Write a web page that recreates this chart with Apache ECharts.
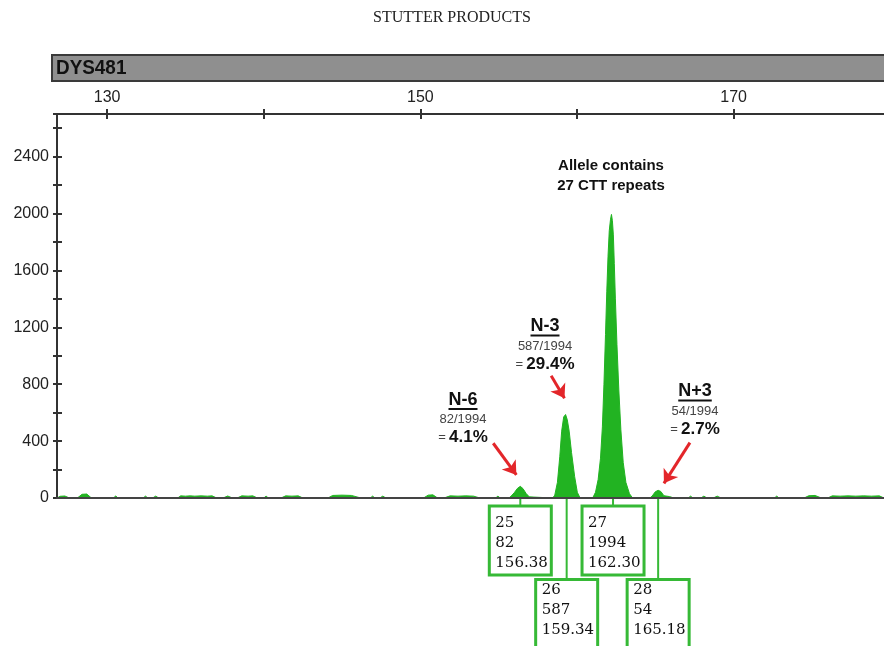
<!DOCTYPE html>
<html>
<head>
<meta charset="utf-8">
<title>Stutter products</title>
<script src="https://cdn.jsdelivr.net/npm/echarts@6/dist/echarts.min.js"></script>
<style>
  html, body { margin: 0; padding: 0; background: #fff; }
  #chart { width: 884px; height: 646px; }
</style>
</head>
<body>
<div id="chart"></div>
<script>
// size axis (bp) ticks and labels
const sizeTicks = [130, 140, 150, 160, 170];
const sizeLabels = [130, 150, 170];

// electropherogram trace: [size bp, RFU]
const signal = [
  [126.8, 0], [127.0, 12], [127.3, 14], [127.6, 0],
  [128.1, 0], [128.4, 26], [128.7, 28], [129.0, 0],
  [130.4, 0], [130.55, 14], [130.7, 0],
  [132.3, 0], [132.45, 13], [132.6, 0],
  [132.9, 0], [133.1, 13], [133.3, 0],
  [134.5, 0], [134.7, 15], [135.0, 13], [135.3, 15], [135.6, 13], [136.0, 15], [136.4, 13], [136.7, 15], [137.0, 0],
  [137.4, 0], [137.7, 14], [138.0, 0],
  [138.3, 0], [138.6, 15], [139.0, 13], [139.3, 15], [139.6, 0],
  [140.0, 0], [140.15, 13], [140.3, 0],
  [141.1, 0], [141.4, 15], [141.8, 13], [142.2, 15], [142.5, 0],
  [144.1, 0], [144.4, 18], [145.0, 20], [145.6, 18], [146.2, 0],
  [146.8, 0], [146.95, 13], [147.1, 0],
  [147.4, 0], [147.6, 13], [147.8, 0],
  [150.2, 0], [150.5, 20], [150.8, 22], [151.1, 0],
  [151.5, 0], [151.9, 15], [152.4, 13], [152.9, 15], [153.4, 13], [153.8, 0],
  [154.8, 0], [154.95, 13], [155.1, 0],
  // N-6 stutter (allele 25)
  [155.65, 0], [155.8, 14], [156.0, 38], [156.2, 68], [156.38, 82], [156.55, 66], [156.75, 32], [156.95, 8], [157.05, 0],
  // N-3 stutter (allele 26)
  [158.45, 0], [158.58, 20], [158.75, 110], [158.9, 290], [159.02, 470], [159.15, 570], [159.27, 587],
  [159.38, 550], [159.5, 470], [159.65, 320], [159.85, 150], [160.02, 40], [160.2, 0],
  // true allele 27
  [161.0, 0], [161.18, 40], [161.35, 130], [161.5, 280], [161.62, 500], [161.72, 800], [161.82, 1150],
  [161.9, 1450], [161.98, 1700], [162.06, 1880], [162.14, 1960], [162.2, 1994], [162.26, 1950],
  [162.32, 1850], [162.38, 1650], [162.45, 1400], [162.55, 1080], [162.67, 760], [162.8, 480],
  [162.95, 250], [163.12, 110], [163.35, 30], [163.55, 0],
  // N+3 stutter (allele 28)
  [164.65, 0], [164.8, 14], [165.0, 44], [165.18, 54], [165.35, 46], [165.55, 16], [165.9, 10], [166.2, 0],
  [167.1, 0], [167.25, 13], [167.4, 0],
  [167.9, 0], [168.1, 13], [168.3, 0],
  [168.7, 0], [168.95, 13], [169.2, 0],
  [169.5, 0], [169.6, 12], [169.7, 0],
  [172.6, 0], [172.75, 13], [172.9, 0],
  [174.5, 0], [174.8, 16], [175.2, 18], [175.6, 0],
  [176.0, 0], [176.3, 15], [176.8, 13], [177.3, 15], [177.8, 13], [178.3, 15], [178.8, 13], [179.3, 15], [179.6, 0]
];

// allele call boxes
const alleles = ['25', '26', '27', '28'];
const heights = [82, 587, 1994, 54];
const sizes = [156.38, 159.34, 162.30, 165.18];

// stutter notes
const noteNames = ['N-6', 'N-3', 'N+3'];
const noteRatios = ['82/1994', '587/1994', '54/1994'];
const notePcts = ['4.1%', '29.4%', '2.7%'];
// arrows, from [bp, RFU] to [bp, RFU]
const arrows = [
  [[154.65, 385], [156.13, 162]],
  [[158.35, 859], [159.20, 702]],
  [[167.21, 389], [165.55, 103]]
];

const GREEN = '#22b322';
const BOX_GREEN = '#36b936';
const RED = '#e3262a';
const AXIS = '#333';
const SANS = '"Liberation Sans", Arial, sans-serif';

const chart = echarts.init(document.getElementById('chart'));

chart.setOption({
  animation: false,
  backgroundColor: '#fff',
  grid: { left: 57, right: 0, top: 114, bottom: 148 },
  xAxis: [
    {
      type: 'value', position: 'top', min: 126.8, max: 179.6,
      axisLine: { show: true, onZero: false, lineStyle: { color: AXIS, width: 2 } },
      axisTick: { show: true, length: 5, customValues: sizeTicks, lineStyle: { color: AXIS, width: 2 } },
      axisLabel: { show: true, customValues: sizeLabels, fontFamily: SANS, fontSize: 16, color: '#222', margin: 8 },
      splitLine: { show: false }
    },
    {
      type: 'value', position: 'top', min: 126.8, max: 179.6,
      axisLine: { show: false, onZero: false },
      axisTick: { show: true, inside: true, length: 5, customValues: sizeTicks, lineStyle: { color: AXIS, width: 2 } },
      axisLabel: { show: false },
      splitLine: { show: false }
    },
    {
      type: 'value', position: 'bottom', min: 126.8, max: 179.6, z: 10,
      axisLine: { show: true, onZero: false, lineStyle: { color: '#444', width: 2 } },
      axisTick: { show: false },
      axisLabel: { show: false },
      splitLine: { show: false }
    }
  ],
  yAxis: [
    {
      type: 'value', min: 0, max: 2700, interval: 200,
      axisLine: { show: true, onZero: false, lineStyle: { color: AXIS, width: 2 } },
      axisTick: { show: true, length: 4, lineStyle: { color: AXIS, width: 2 } },
      axisLabel: {
        fontFamily: SANS, fontSize: 16, color: '#222', margin: 8,
        formatter: v => (v % 400 === 0 ? String(v) : '')
      },
      splitLine: { show: false }
    },
    {
      type: 'value', min: 0, max: 2700, interval: 200, position: 'left',
      axisLine: { show: false, onZero: false },
      axisTick: { show: true, inside: true, length: 5, lineStyle: { color: AXIS, width: 2 } },
      axisLabel: { show: false },
      splitLine: { show: false }
    }
  ],
  series: [
    {
      name: 'DYS481',
      type: 'line',
      xAxisIndex: 0,
      yAxisIndex: 0,
      data: signal,
      showSymbol: false,
      symbol: 'none',
      lineStyle: { color: GREEN, width: 1 },
      areaStyle: { color: GREEN, opacity: 1 },
      silent: true,
      markLine: {
        silent: true,
        symbol: ['none', 'arrow'],
        symbolSize: 13,
        label: { show: false },
        lineStyle: { color: RED, width: 3, type: 'solid' },
        data: arrows.map(a => [{ coord: a[0] }, { coord: a[1] }])
      }
    }
  ]
});

// measure text widths for underlines
const ctx = document.createElement('canvas').getContext('2d');
function textWidth(str, font) { ctx.font = font; return ctx.measureText(str).width; }

const px = bp => chart.convertToPixel({ xAxisIndex: 0 }, bp);
const py = v => chart.convertToPixel({ yAxisIndex: 0 }, v);

const graphic = [];

// page title
graphic.push({
  type: 'text', x: 452, y: 18,
  style: { text: 'STUTTER PRODUCTS', font: '16px "Liberation Serif", "Times New Roman", serif', fill: '#222', align: 'center', verticalAlign: 'middle' }
});

// marker header bar
graphic.push({
  type: 'rect', shape: { x: 52, y: 55, width: 840, height: 26 },
  style: { fill: '#8f8f8f', stroke: '#3a3a3a', lineWidth: 2 }
});
graphic.push({
  type: 'text', x: 56, y: 68, scaleX: 0.9,
  style: { text: 'DYS481', font: 'bold 21px "Liberation Sans", Arial, sans-serif', fill: '#111', verticalAlign: 'middle' }
});

// allele headline
graphic.push({
  type: 'text', x: 611, y: 176,
  style: { text: 'Allele contains\n27 CTT repeats', font: 'bold 15px ' + SANS, lineHeight: 20, fill: '#111', align: 'center', verticalAlign: 'middle' }
});

// stutter notes
const noteCenters = [[463, 400], [545, 326.5], [695, 391.5]];
noteNames.forEach((name, i) => {
  const [cx, cy] = noteCenters[i];
  const nameFont = 'bold 18px ' + SANS;
  const w = textWidth(name, nameFont);
  graphic.push({
    type: 'text', x: cx, y: cy,
    style: { text: name, font: nameFont, fill: '#111', align: 'center', verticalAlign: 'middle' }
  });
  graphic.push({
    type: 'line', shape: { x1: cx - w / 2, y1: cy + 9, x2: cx + w / 2, y2: cy + 9 },
    style: { stroke: '#111', lineWidth: 2 }
  });
  graphic.push({
    type: 'text', x: cx, y: cy + 19.5,
    style: { text: noteRatios[i], font: '13px ' + SANS, fill: '#444', align: 'center', verticalAlign: 'middle' }
  });
  graphic.push({
    type: 'text', x: cx, y: cy + 37.5,
    style: {
      text: '{eq|=} {p|' + notePcts[i] + '}', align: 'center', verticalAlign: 'middle',
      rich: {
        eq: { font: '13px ' + SANS, fill: '#444' },
        p: { font: 'bold 17px ' + SANS, fill: '#111' }
      }
    }
  });
});

// allele call boxes below the baseline
const rowTop = [506, 579.5];
const rowText = [513, 580];
const boxW = 62;
alleles.forEach((a, i) => {
  const cx = px(sizes[i]);
  const row = i % 2;
  const top = rowTop[row];
  graphic.push({
    type: 'line', shape: { x1: cx, y1: py(0) + 1, x2: cx, y2: top },
    style: { stroke: BOX_GREEN, lineWidth: 2 }
  });
  graphic.push({
    type: 'rect', shape: { x: cx - boxW / 2, y: top, width: boxW, height: row === 0 ? 69 : 80 },
    style: { fill: '#fff', stroke: BOX_GREEN, lineWidth: 3 }
  });
  graphic.push({
    type: 'text', x: cx - boxW / 2 + 6, y: rowText[row],
    style: {
      text: a + '\n' + heights[i] + '\n' + sizes[i].toFixed(2),
      font: '15px "DejaVu Serif", serif', lineHeight: 20, fill: '#111', verticalAlign: 'top'
    }
  });
});

chart.setOption({ graphic: graphic });
</script>
</body>
</html>
